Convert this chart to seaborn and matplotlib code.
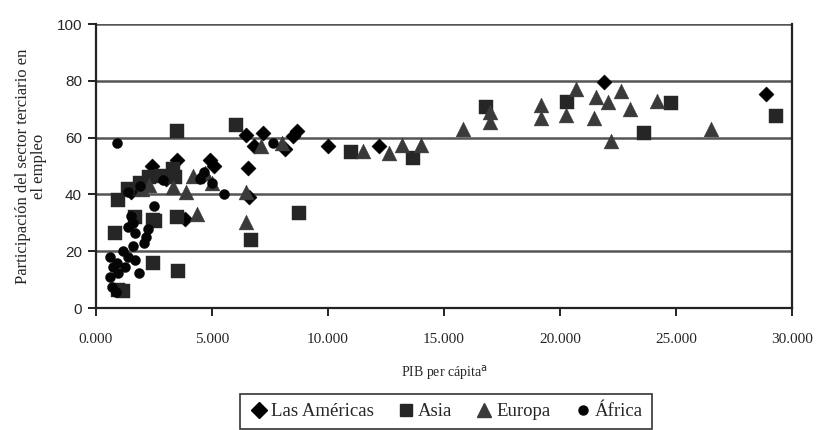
import matplotlib
matplotlib.use("Agg")
import matplotlib.pyplot as plt
import seaborn as sns
import pandas as pd
from matplotlib.ticker import FuncFormatter

# ── Data ──────────────────────────────────────────────────────────────────────
americas_x = [21900, 28900, 10000, 12200, 8650, 8500, 8150, 7200, 6800, 6450,
              6550, 6600, 4900, 4600, 5100, 3500, 2400, 3000, 3850, 1500]
americas_y = [79.5, 75.5, 57.0, 57.2, 62.3, 60.5, 56.0, 61.5, 57.0, 61.0,
              49.5, 39.0, 52.0, 46.5, 50.0, 52.0, 50.0, 45.5, 31.5, 41.0]

asia_x = [29300, 24800, 23600, 20300, 16800, 13650, 11000, 8750, 6700, 6050,
          3500, 3550, 3500, 2450, 2450, 950, 800, 950, 1150, 1400,
          1900, 2300, 2800, 3300, 3400, 2550, 1700]
asia_y = [67.5, 72.3, 61.8, 72.5, 70.8, 52.8, 55.0, 33.5, 24.0, 64.5,
          62.5, 13.0, 32.0, 31.0, 16.0, 38.0, 26.5, 6.5, 6.0, 42.0,
          44.0, 46.0, 46.5, 49.0, 46.0, 30.5, 32.0]

europa_x = [26500, 24200, 23000, 22650, 22200, 22050, 21550, 21450, 20700, 20250,
            19200, 19200, 17000, 17000, 15800, 14000, 13200, 12650, 11500, 8000,
            7100, 6450, 6450, 4350, 3900, 4200, 4700, 5000, 2300, 2000, 3300]
europa_y = [63.0, 73.0, 70.0, 76.5, 59.0, 72.5, 74.3, 67.0, 77.0, 68.0,
            71.5, 67.0, 69.0, 65.5, 63.0, 57.5, 57.5, 54.5, 55.5, 58.0,
            57.0, 40.8, 30.3, 33.0, 41.0, 46.5, 47.5, 44.0, 43.5, 42.0, 42.5]

africa_x = [900, 2500, 5500, 7650, 1500, 1600, 1700, 1400, 2250, 2050,
            2150, 600, 750, 600, 700, 850, 950, 1250, 1400, 1700,
            1850, 1150, 900, 1600, 1400, 1900, 2900, 4500, 5000, 4650]
africa_y = [58.0, 36.0, 40.0, 58.0, 32.5, 30.0, 26.5, 28.5, 28.0, 23.0,
            25.0, 18.0, 14.5, 11.0, 7.5, 5.5, 12.5, 14.5, 18.0, 17.0,
            12.5, 20.0, 16.0, 22.0, 41.0, 43.0, 45.0, 45.5, 44.0, 48.0]

regions = ["Las Américas", "Asia", "Europa", "África"]

df = pd.concat([
    pd.DataFrame({"pib": americas_x, "terc": americas_y, "region": "Las Américas"}),
    pd.DataFrame({"pib": asia_x, "terc": asia_y, "region": "Asia"}),
    pd.DataFrame({"pib": europa_x, "terc": europa_y, "region": "Europa"}),
    pd.DataFrame({"pib": africa_x, "terc": africa_y, "region": "África"}),
], ignore_index=True)

# ── Styles ────────────────────────────────────────────────────────────────────
markers = {"Las Américas": "D", "Asia": "s", "Europa": "^", "África": "o"}
colors = {"Las Américas": "#000000", "Asia": "#262626",
          "Europa": "#3a3a3a", "África": "#050505"}
sizes = {"Las Américas": 60, "Asia": 115, "Europa": 115, "África": 52}
leg_sizes = {"Las Américas": 8, "Asia": 8.5, "Europa": 9.5, "África": 6.5}

sns.set_style("white")
plt.rcParams["font.family"] = ["Liberation Serif", "DejaVu Serif"]

fig = plt.figure(figsize=(8.16, 4.30), dpi=100)
ax = fig.add_axes([0.1176, 0.2837, 0.853, 0.660])

ax.set_axisbelow(True)
ax.grid(axis="y", color="#555555", lw=1.8)
ax.grid(axis="x", visible=False)

for reg in regions:
    sns.scatterplot(data=df[df.region == reg], x="pib", y="terc",
                    marker=markers[reg], color=colors[reg], s=sizes[reg],
                    edgecolor=colors[reg], linewidth=0.3, ax=ax,
                    legend=False, zorder=3)

ax.set_xlim(0, 30000)
ax.set_ylim(0, 100)
ax.set_xticks(range(0, 30001, 5000))
ax.set_yticks(range(0, 101, 20))
ax.xaxis.set_major_formatter(FuncFormatter(lambda v, p: f"{v / 1000:.3f}"))

for s in ["left", "bottom", "right"]:
    ax.spines[s].set_visible(True)
    ax.spines[s].set_color("#222222")
    ax.spines[s].set_linewidth(1.6)
ax.spines["top"].set_visible(False)

ax.tick_params(axis="x", direction="out", length=6, width=1.4,
               color="#222222", labelsize=11, pad=12, bottom=True)
ax.tick_params(axis="y", direction="out", length=6, width=1.4,
               color="#222222", labelsize=11, pad=4, left=True)
for lab in ax.get_yticklabels():
    lab.set_family("Liberation Sans")

ax.set_xlabel("PIB per cápita$^{\\mathrm{a}}$", fontsize=10, labelpad=13)
ax.set_ylabel("Participación del sector terciario en\nel empleo",
              fontsize=12, labelpad=7, linespacing=1.0)

handles = [plt.Line2D([], [], ls="", marker=markers[r], color=colors[r],
                      markersize=leg_sizes[r])
           for r in regions]
leg = fig.legend(handles, regions, loc="center", bbox_to_anchor=(0.547, 0.043),
                 ncol=4, frameon=True, fancybox=False, edgecolor="#000000",
                 fontsize=13.5, handletextpad=0.15, columnspacing=1.2,
                 handlelength=1.0, borderpad=0.5)
leg.get_frame().set_linewidth(1.2)

fig.savefig("out.png", dpi=100, facecolor="white")
